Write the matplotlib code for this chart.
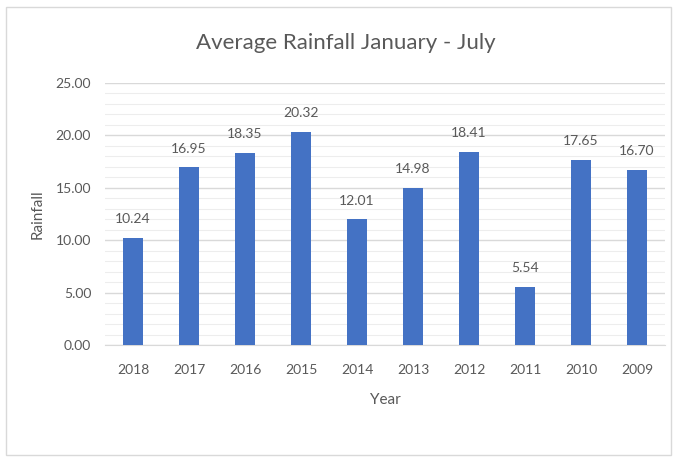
import matplotlib
matplotlib.use("Agg")
import matplotlib.pyplot as plt
from matplotlib.patches import Rectangle
from matplotlib.ticker import MultipleLocator, FormatStrFormatter

years = ["2018", "2017", "2016", "2015", "2014", "2013", "2012", "2011", "2010", "2009"]
rainfall = [10.24, 16.95, 18.35, 20.32, 12.01, 14.98, 18.41, 5.54, 17.65, 16.70]

plt.rcParams['font.family'] = ['Lato', 'DejaVu Sans']
TXT = '#595959'

W, H = 676, 457
fig = plt.figure(figsize=(W/100, H/100), dpi=100)
fig.patch.set_facecolor('white')
fig.patches.append(Rectangle((6/W, 2/H), 665/W, 448/H, transform=fig.transFigure,
                             fill=False, edgecolor='#D9D9D9', linewidth=1.0))

ax = fig.add_axes([105/W, 112/H, 560/W, 262/H])
x = list(range(len(years)))
ax.bar(x, rainfall, width=0.34, color='#4472C4', zorder=3)
for xi, v in zip(x, rainfall):
    ax.text(xi, v + 1.2, f"{v:.2f}", ha='center', va='bottom', fontsize=10, color=TXT)

ax.set_xlim(-0.5, len(years) - 0.5)
ax.set_ylim(0, 25)
ax.set_xticks(x)
ax.set_xticklabels(years)
ax.yaxis.set_major_locator(MultipleLocator(5))
ax.yaxis.set_minor_locator(MultipleLocator(1))
ax.yaxis.set_major_formatter(FormatStrFormatter('%.2f'))
ax.grid(which='major', axis='y', color='#D9D9D9', linewidth=1.0, zorder=0)
ax.grid(which='minor', axis='y', color='#EDEDED', linewidth=0.8, zorder=0)
for s in ['top', 'right', 'left']:
    ax.spines[s].set_visible(False)
ax.spines['bottom'].set_color('#D9D9D9')
ax.tick_params(axis='both', which='both', length=0, labelsize=10, labelcolor=TXT)
ax.tick_params(axis='x', pad=14)
ax.tick_params(axis='y', pad=10)
ax.set_xlabel('Year', fontsize=11, color=TXT, labelpad=12)
ax.set_ylabel('Rainfall', fontsize=11, color=TXT, labelpad=8)
fig.text(346/W, 1 - 43/H, 'Average Rainfall January - July', ha='center', va='center',
         fontsize=16, color=TXT)

fig.savefig('out.png', dpi=100)
